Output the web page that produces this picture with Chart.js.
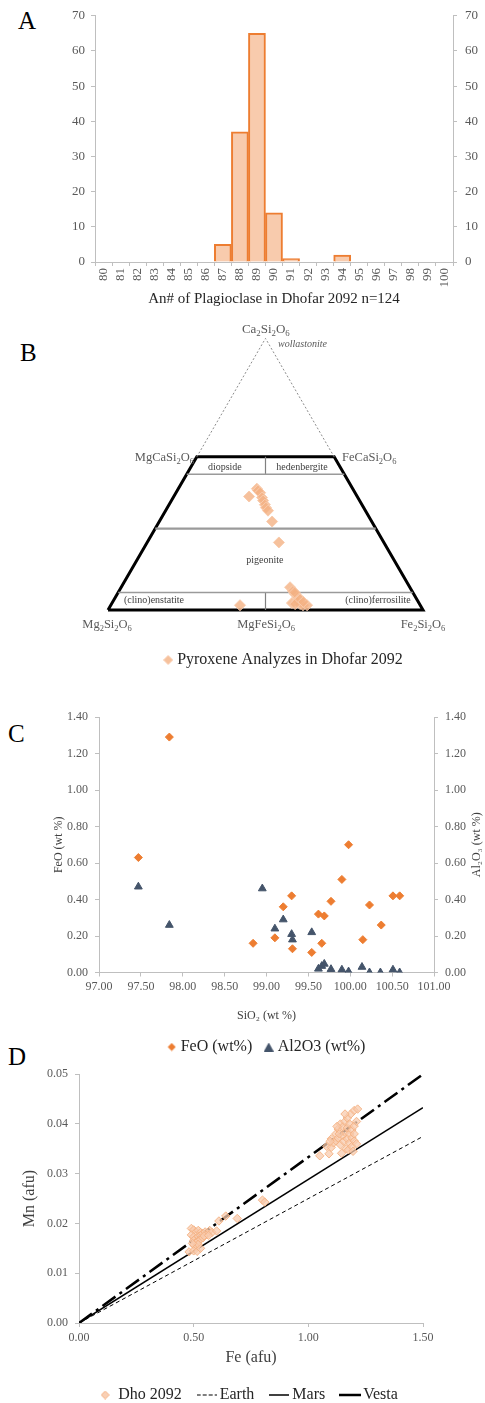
<!DOCTYPE html>
<html><head><meta charset="utf-8">
<script src="https://cdn.jsdelivr.net/npm/chart.js@4.4.1/dist/chart.umd.min.js"></script>
<style>
html,body{margin:0;padding:0;overflow:hidden;background:#fff;width:485px;height:1403px;position:relative;}
canvas{position:absolute;left:0;}
.letter{position:absolute;font-family:'Liberation Serif','Times New Roman',serif;font-size:25px;line-height:1;color:#000;}
</style></head><body>
<div class="letter" style="left:18px;top:8px">A</div>
<div class="letter" style="left:20px;top:340px">B</div>
<div class="letter" style="left:8px;top:721px">C</div>
<div class="letter" style="left:8px;top:1044px">D</div>
<canvas id="cA" width="485" height="308" style="top:0"></canvas>
<canvas id="cB" width="485" height="368" style="top:310px"></canvas>
<canvas id="cC" width="485" height="365" style="top:700px"></canvas>
<canvas id="cD" width="485" height="353" style="top:1060px"></canvas>
<script>
// ---------- DATA ----------
// Panel A: plagioclase An# histogram
const anCategories = ['80','81','82','83','84','85','86','87','88','89','90','91','92','93','94','95','96','97','98','99','100'];
const anCounts = [null,null,null,null,null,null,null,5,37,65,14,1,null,null,2,null,null,null,null,null,null];

// Panel B: pyroxene ternary (Wo %, Fs %)
const pyxWo = [41.8,44.7,44.0,43.2,41.4,40.3,38.8,37.7,36.6,32.6,24.9, 8.4,7.0,5.9,4.8,2.6,3.3,2.2,1.8,1.8,2.2,1.8,4.0,3.0,6.5];
const pyxFs = [23.9,24.9,25.6,26.7,28.2,29.1,30.4,31.3,32.5,35.8,41.8, 53.6,55.2,56.4,57.9,57.1,58.4,59.9,61.0,62.3,58.3,41.0,59.0,60.5,56.0];
// quadrilateral frame (Wo, Fs)
const frameOutline = [[0,0],[0,100],[56.4,43.6],[56.4,0],[0,0]];
const frameDotted = [[56.4,0],[100,0],[56.4,43.6]];
const frameWo50 = [[50,0],[50,50]];
const frameWo30 = [[30,0],[30,70]];
const frameWo6 = [[6.5,0],[6.5,93.5]];
const frameDivTop = [[50,25],[56.4,21.8]];
const frameDivBottom = [[0,50],[6.5,46.75]];

// Panel C: SiO2 vs FeO / Al2O3
const sio2FeO = [97.47,97.84,98.84,99.10,99.20,99.30,99.31,99.54,99.62,99.66,99.69,99.77,99.90,99.98,100.15,100.23,100.37,100.51,100.59];
const feoWt   = [0.63, 1.29, 0.16, 0.19, 0.36, 0.42, 0.13, 0.11, 0.32, 0.16, 0.31, 0.39, 0.51, 0.70, 0.18, 0.37, 0.26, 0.42, 0.42];
const sio2Al  = [97.47,97.84,98.95,99.10,99.20,99.30,99.31,99.54,99.62,99.66,99.69,99.77,99.90,99.98,100.14,100.23,100.36,100.51,100.59];
const al2o3Wt = [0.47, 0.26, 0.46, 0.24, 0.29, 0.21, 0.18, 0.22, 0.02, 0.035,0.047,0.018,0.015,0.005,0.03, 0.0,  0.0,  0.015,0.0];

// Panel D: Fe vs Mn (afu)
const feAfu = [0.49,0.50,0.51,0.52,0.53,0.49,0.50,0.51,0.52,0.53,0.54,0.55,0.56,0.57,0.58,0.50,0.51,0.52,0.53,0.54,0.50,0.51,0.52,0.48,0.50,0.515,0.53,0.495,0.545,0.565,0.60,0.61,0.64,0.69,0.80,0.81,
  1.05,1.08,1.09,1.10,1.10,1.11,1.12,1.12,1.13,1.13,1.14,1.14,1.145,1.15,1.15,1.155,1.16,1.16,1.165,1.17,1.17,1.17,1.175,1.18,1.18,1.18,1.185,1.19,1.19,1.19,1.195,1.20,1.20,1.20,1.20,1.21,1.215,1.21,1.16,1.125,1.095,1.135];
const mnAfu = [0.0190,0.0187,0.0183,0.0186,0.0182,0.0177,0.0173,0.0170,0.0174,0.0176,0.0180,0.0183,0.0179,0.0186,0.0182,0.0166,0.0162,0.0165,0.0168,0.0171,0.0157,0.0153,0.0158,0.0143,0.0145,0.0144,0.0150,0.0160,0.0175,0.0176,0.0185,0.0205,0.0215,0.0210,0.0247,0.0243,
  0.0336,0.0355,0.0340,0.0353,0.0370,0.0362,0.0380,0.0366,0.0372,0.0390,0.0400,0.0358,0.0341,0.0376,0.0394,0.0365,0.0383,0.0405,0.0350,0.0370,0.0392,0.0412,0.0348,0.0380,0.0400,0.0362,0.0420,0.0388,0.0372,0.0355,0.0345,0.0366,0.0380,0.0396,0.0427,0.0360,0.0430,0.0405,0.0420,0.0395,0.0365,0.0380];
const modelFe = [0, 1.5];
const earthMn = [0, 0.0375];
const marsMn  = [0, 0.0433];
const vestaMn = [0, 0.05];

// ---------- STYLE ----------
const SERIF = "'Liberation Serif','Times New Roman',Times,serif";
Chart.defaults.font.family = SERIF;
Chart.defaults.color = '#595959';
Chart.defaults.animation = false;
Chart.defaults.responsive = false;
Chart.defaults.plugins.tooltip.enabled = false;
const F = (size, style) => ({family: SERIF, size, style: style || 'normal'});
const AXIS = '#bfbfbf';
const ORANGE = '#ed7d31', PEACH = '#f8cbad', PEACH2 = '#f4b183', NAVY = '#44546a';

function icon(kind, o) {
  const c = document.createElement('canvas');
  c.width = o.w; c.height = o.h;
  const g = c.getContext('2d'); const w = o.w, h = o.h;
  if (kind === 'diamond') {
    g.beginPath(); g.moveTo(w/2,0.5); g.lineTo(w-0.5,h/2); g.lineTo(w/2,h-0.5); g.lineTo(0.5,h/2); g.closePath();
    g.fillStyle = o.fill; g.fill(); if (o.stroke) { g.strokeStyle = o.stroke; g.lineWidth = 1; g.stroke(); }
  } else if (kind === 'triangle') {
    g.beginPath(); g.moveTo(w/2,0); g.lineTo(w,h); g.lineTo(0,h); g.closePath(); g.fillStyle = o.fill; g.fill();
  } else {
    g.strokeStyle = o.stroke; g.lineWidth = o.lw; g.setLineDash(o.dash || []);
    g.beginPath(); g.moveTo(0,h/2); g.lineTo(w,h/2); g.stroke();
  }
  return c;
}
function legendWith(icons) {
  return chart => Chart.defaults.plugins.legend.labels.generateLabels(chart)
    .filter(it => icons[it.text])
    .map(it => Object.assign(it, {pointStyle: icons[it.text], lineDash: []}));
}
const fix2 = v => Number(v).toFixed(2);
function sideAxis(pos, min, max, step, width, extra) {
  return Object.assign({
    type: 'linear', position: pos, min, max,
    ticks: {stepSize: step, padding: 7, font: F(12), color: '#595959', callback: fix2},
    grid: {drawOnChartArea: false, tickLength: 4, color: AXIS},
    border: {color: AXIS},
    afterFit: s => { s.width = width; }
  }, extra || {});
}

// ---------- PANEL A ----------
new Chart(document.getElementById('cA'), {
  type: 'bar',
  data: {labels: anCategories, datasets: [{label: 'An#', data: anCounts, backgroundColor: PEACH, borderColor: ORANGE, borderWidth: 2, barPercentage: 1, categoryPercentage: 1}]},
  options: {
    layout: {padding: {top: 15, left: 0, right: 0, bottom: 0}},
    plugins: {legend: {display: false}},
    scales: {
      x: {offset: true, grid: {offset: true, drawOnChartArea: false, tickLength: 4, color: AXIS}, border: {color: AXIS},
          ticks: {minRotation: 90, maxRotation: 90, autoSkip: false, padding: 2, font: F(13), color: '#595959'},
          title: {display: true, text: 'An# of Plagioclase in Dhofar 2092 n=124', font: F(15), color: '#262626', padding: {top: 0, bottom: 0}},
          afterFit: s => { s.height = 46; }},
      y: {position: 'left', min: 0, max: 70, ticks: {stepSize: 10, padding: 6, font: F(13), color: '#595959'},
          grid: {drawOnChartArea: false, tickLength: 4, color: AXIS}, border: {color: AXIS}, afterFit: s => { s.width = 95; }},
      y2: {position: 'right', min: 0, max: 70, ticks: {stepSize: 10, padding: 8, font: F(13), color: '#595959'},
          grid: {drawOnChartArea: false, tickLength: 4, color: AXIS}, border: {color: AXIS}, afterFit: s => { s.width = 32; }}
    }
  }
});

// ---------- PANEL B ----------
const SQ3 = Math.sqrt(3) / 2;
const tern = (wo, fs) => ({x: fs + wo / 2, y: wo * SQ3});
const seg = arr => arr.map(p => tern(p[0], p[1]));
const frameLine = (pts, color, width, dash) => ({label: '', data: seg(pts), showLine: true, pointRadius: 0, borderColor: color, borderWidth: width, borderDash: dash || [], fill: false, order: 2});
const ternLabels = [
  {t: 'Ca2Si2O6', x: 50.1, y: 89.8, size: 13, align: 'center', formula: true, color: '#595959'},
  {t: 'wollastonite', x: 54.0, y: 84.7, size: 10, align: 'left', italic: true, color: '#595959'},
  {t: 'MgCaSi2O6', x: 27.3, y: 48.9, size: 12.5, align: 'right', formula: true, color: '#595959'},
  {t: 'FeCaSi2O6', x: 74.3, y: 48.9, size: 12.5, align: 'left', formula: true, color: '#595959'},
  {t: 'diopside', x: 37.1, y: 45.4, size: 10, align: 'center', color: '#404040'},
  {t: 'hedenbergite', x: 61.6, y: 45.4, size: 10, align: 'center', color: '#404040'},
  {t: 'pigeonite', x: 49.8, y: 15.9, size: 10, align: 'center', color: '#404040'},
  {t: '(clino)enstatite', x: 14.6, y: 3.2, size: 10, align: 'center', color: '#404040'},
  {t: '(clino)ferrosilite', x: 85.7, y: 3.2, size: 10, align: 'center', color: '#404040'},
  {t: 'Mg2Si2O6', x: -0.3, y: -4.4, size: 12.5, align: 'center', formula: true, color: '#595959'},
  {t: 'MgFeSi2O6', x: 50.2, y: -4.4, size: 12.5, align: 'center', formula: true, color: '#595959'},
  {t: 'Fe2Si2O6', x: 100, y: -4.4, size: 12.5, align: 'center', formula: true, color: '#595959'}
];
function drawFormula(ctx, txt, x, yc, size, align, color) {
  const parts = txt.match(/[0-9]+|[^0-9]+/g);
  const big = size + 'px ' + SERIF, small = (size * 0.68).toFixed(1) + 'px ' + SERIF;
  let w = 0;
  parts.forEach(p => { ctx.font = /\d/.test(p) ? small : big; w += ctx.measureText(p).width; });
  let cx = align === 'center' ? x - w / 2 : align === 'right' ? x - w : x;
  const base = yc + size * 0.33;
  ctx.textAlign = 'left'; ctx.textBaseline = 'alphabetic'; ctx.fillStyle = color;
  parts.forEach(p => {
    const sub = /\d/.test(p); ctx.font = sub ? small : big;
    ctx.fillText(p, cx, base + (sub ? size * 0.22 : 0)); cx += ctx.measureText(p).width;
  });
}
const ternText = {
  id: 'ternText',
  afterDraw(chart) {
    const ctx = chart.ctx, sx = chart.scales.x, sy = chart.scales.y;
    ctx.save();
    ternLabels.forEach(l => {
      const px = sx.getPixelForValue(l.x), py = sy.getPixelForValue(l.y);
      if (l.formula) { drawFormula(ctx, l.t, px, py, l.size, l.align, l.color); return; }
      ctx.font = (l.italic ? 'italic ' : '') + l.size + 'px ' + SERIF;
      ctx.fillStyle = l.color; ctx.textAlign = l.align; ctx.textBaseline = 'middle';
      ctx.fillText(l.t, px, py);
    });
    ctx.restore();
  }
};
new Chart(document.getElementById('cB'), {
  type: 'scatter',
  data: {datasets: [
    {label: 'Pyroxene Analyzes in Dhofar 2092', data: pyxWo.map((w, i) => tern(w, pyxFs[i])), pointStyle: 'rectRot', pointRadius: 5.5,
     backgroundColor: 'rgba(244,177,131,0.8)', borderColor: 'rgba(248,203,173,1)', borderWidth: 1, order: 0},
    frameLine(frameDotted, '#8c8c8c', 1, [2, 2]),
    frameLine(frameWo50, '#9a9a9a', 1.5),
    frameLine(frameWo30, '#9a9a9a', 2.2),
    frameLine(frameWo6, '#9a9a9a', 1.5),
    frameLine(frameDivTop, '#808080', 1.2),
    frameLine(frameDivBottom, '#808080', 1.2),
    frameLine(frameOutline, '#000000', 3)
  ]},
  options: {
    layout: {padding: {top: 5, left: 100, right: 15, bottom: 0}},
    scales: {x: {type: 'linear', display: false, min: -2.54, max: 114.92}, y: {type: 'linear', display: false, min: -6.344, max: 93.58}},
    plugins: {legend: {position: 'bottom', labels: {usePointStyle: true, pointStyleWidth: 2, boxHeight: 8, padding: 22, font: F(16), color: '#262626',
      generateLabels: legendWith({'Pyroxene Analyzes in Dhofar 2092': icon('diamond', {w: 10, h: 10, fill: 'rgba(244,177,131,0.8)', stroke: PEACH})})}}}
  },
  plugins: [ternText]
});

// ---------- PANEL C ----------
const al2o3Title = 'Al₂O₃ (wt %)';
const rightTitle = {
  id: 'rightTitle',
  afterDraw(chart) {
    const s = chart.scales.y2, ctx = chart.ctx;
    ctx.save();
    ctx.translate(s.right - 8, (s.top + s.bottom) / 2);
    ctx.rotate(-Math.PI / 2);
    ctx.font = '12px ' + SERIF; ctx.fillStyle = '#404040'; ctx.textAlign = 'center'; ctx.textBaseline = 'middle';
    ctx.fillText(al2o3Title, 0, 0);
    ctx.restore();
  }
};
new Chart(document.getElementById('cC'), {
  type: 'scatter',
  data: {datasets: [
    {label: 'FeO (wt%)', data: sio2FeO.map((x, i) => ({x, y: feoWt[i]})), yAxisID: 'y', pointStyle: 'rectRot', pointRadius: 4, backgroundColor: ORANGE, borderColor: ORANGE, borderWidth: 1},
    {label: 'Al2O3 (wt%)', data: sio2Al.map((x, i) => ({x, y: al2o3Wt[i]})), yAxisID: 'y2', pointStyle: 'triangle', pointRadius: 4.5, backgroundColor: NAVY, borderColor: NAVY, borderWidth: 1}
  ]},
  options: {
    layout: {padding: {top: 17, left: 51, right: 0, bottom: 0}},
    scales: {
      x: {type: 'linear', min: 97, max: 101, ticks: {stepSize: 0.5, padding: 3, font: F(12), color: '#595959', callback: fix2},
          grid: {drawOnChartArea: false, tickLength: 4, color: AXIS}, border: {color: AXIS},
          title: {display: true, text: 'SiO₂ (wt %)', font: F(12), color: '#404040', padding: {top: 0, bottom: 0}},
          afterFit: s => { s.height = 51; }},
      y: sideAxis('left', 0, 1.4, 0.2, 48, {title: {display: true, text: 'FeO (wt %)', font: F(12), color: '#404040', padding: {top: 1, bottom: 0}}}),
      y2: sideAxis('right', 0, 1.4, 0.2, 51)
    },
    plugins: {legend: {position: 'bottom', labels: {usePointStyle: true, pointStyleWidth: 2, boxHeight: 8, padding: 15.5, font: F(16), color: '#262626',
      generateLabels: legendWith({'FeO (wt%)': icon('diamond', {w: 9, h: 9, fill: ORANGE}), 'Al2O3 (wt%)': icon('triangle', {w: 10, h: 9, fill: NAVY})})}}}
  },
  plugins: [rightTitle]
});

// ---------- PANEL D ----------
const lineDs = (label, mn, width, dash) => ({label, data: modelFe.map((x, i) => ({x, y: mn[i]})), showLine: true, pointRadius: 0, borderColor: '#000', borderWidth: width, borderDash: dash, fill: false});
new Chart(document.getElementById('cD'), {
  type: 'scatter',
  data: {datasets: [
    {label: 'Dho 2092', data: feAfu.map((x, i) => ({x, y: mnAfu[i]})), pointStyle: 'rectRot', pointRadius: 4.2, backgroundColor: 'rgba(248,203,173,0.75)', borderColor: 'rgba(244,177,131,0.9)', borderWidth: 1},
    lineDs('Earth', earthMn, 1, [4, 3]),
    lineDs('Mars', marsMn, 1.5, []),
    lineDs('Vesta', vestaMn, 2.6, [16, 5, 3, 5])
  ]},
  options: {
    layout: {padding: {top: 10, left: 13, right: 0, bottom: 0}},
    scales: {
      x: {type: 'linear', min: 0, max: 1.5, ticks: {stepSize: 0.5, padding: 4, font: F(12), color: '#595959', callback: fix2},
          grid: {drawOnChartArea: false, tickLength: 4, color: AXIS}, border: {color: AXIS},
          title: {display: true, text: 'Fe (afu)', font: F(16), color: '#404040', padding: {top: 0, bottom: 0}},
          afterFit: s => { s.height = 44; }},
      y: sideAxis('left', 0, 0.05, 0.01, 66, {title: {display: true, text: 'Mn (afu)', font: F(16), color: '#404040', padding: {top: 7.4, bottom: 0}}}),
      y2: {type: 'linear', position: 'right', display: true, ticks: {display: false}, grid: {display: false}, border: {display: false}, afterFit: s => { s.width = 62; }}
    },
    plugins: {legend: {position: 'bottom', labels: {usePointStyle: true, pointStyleWidth: 10, boxHeight: 8, padding: 20, font: F(16), color: '#262626',
      generateLabels: legendWith({
        'Dho 2092': icon('diamond', {w: 9, h: 9, fill: 'rgba(248,203,173,0.9)', stroke: PEACH2}),
        'Earth': icon('line', {w: 20, h: 6, stroke: '#000', lw: 1.2, dash: [4, 2]}),
        'Mars': icon('line', {w: 20, h: 6, stroke: '#000', lw: 1.5}),
        'Vesta': icon('line', {w: 22, h: 6, stroke: '#000', lw: 2.5})
      })}}}
  }
});
</script>
</body></html>
